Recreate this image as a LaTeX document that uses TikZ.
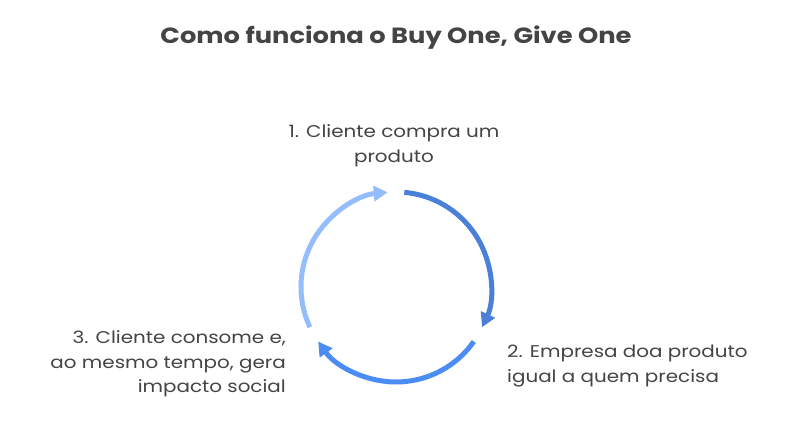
\documentclass[tikz,border=0pt]{standalone}
\usepackage{fontspec}
\setmainfont{Poppins}[FakeStretch=1.17]
\usetikzlibrary{arrows.meta,calc}
\definecolor{txt}{HTML}{444444}
\definecolor{arcA}{HTML}{4A80D9}
\definecolor{arcB}{HTML}{4B8DF5}
\definecolor{arcC}{HTML}{94BDFD}
\tikzset{
  cyc/.style={line width=5pt, -{Triangle[length=14pt,width=15pt]}},
  lbl/.style={text=txt, font=\fontsize{17}{24.5}\selectfont, inner sep=0pt},
}
\begin{document}
\begin{tikzpicture}[x=1pt,y=1pt]
\useasboundingbox[fill=white] (0,0) rectangle (788,446);
\node[text=txt, font=\fontsize{22}{26}\selectfont\bfseries, inner sep=0pt] (title) at (396,408) {Como funciona o Buy One, Give One};
\coordinate (c) at (396,159);
\coordinate (s1) at ($(c)+(85:95)$);
\coordinate (s2) at ($(c)+(-35:95)$);
\coordinate (s3) at ($(c)+(-155:95)$);
\draw[cyc, arcA] (s1) arc[start angle=85, end angle=-25, radius=95];
\draw[cyc, arcB] (s2) arc[start angle=-35, end angle=-145, radius=95];
\draw[cyc, arcC] (s3) arc[start angle=205, end angle=95, radius=95];
\node[lbl, align=center] (n1) at (394,300) {1. Cliente compra um\\produto};
\node[lbl, align=left, anchor=west] (n2) at (507,80) {2. Empresa doa produto\\igual a quem precisa};
\node[lbl, align=right, anchor=east] (n3) at (286,82) {3. Cliente consome e,\\ao mesmo tempo, gera\\impacto social};
\end{tikzpicture}
\end{document}
